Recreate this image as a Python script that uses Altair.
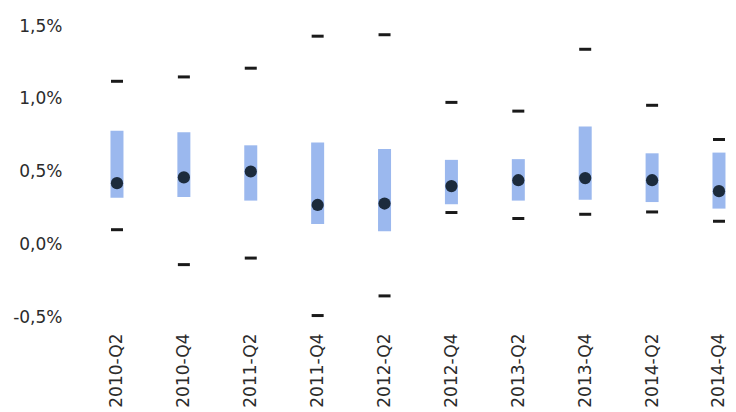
import altair as alt
import pandas as pd

quarters = ["2010-Q2", "2010-Q4", "2011-Q2", "2011-Q4", "2012-Q2",
            "2012-Q4", "2013-Q2", "2013-Q4", "2014-Q2", "2014-Q4"]
max_vals = [1.12, 1.15, 1.21, 1.43, 1.44, 0.975, 0.915, 1.34, 0.955, 0.72]
q_high = [0.78, 0.77, 0.68, 0.70, 0.655, 0.58, 0.585, 0.81, 0.625, 0.63]
median = [0.42, 0.46, 0.50, 0.27, 0.28, 0.40, 0.44, 0.455, 0.44, 0.365]
q_low = [0.32, 0.325, 0.30, 0.14, 0.09, 0.275, 0.30, 0.305, 0.29, 0.245]
min_vals = [0.10, -0.14, -0.095, -0.49, -0.355, 0.218, 0.177, 0.206, 0.222, 0.158]

df = pd.DataFrame({
    "q": quarters, "max": max_vals, "hi": q_high,
    "med": median, "lo": q_low, "min": min_vals,
})

FONT = "DejaVu Sans"
TXT = "#2b2b2b"

xenc = alt.X(
    "q:N", sort=quarters, title=None,
    scale=alt.Scale(type="point", padding=0.4186, align=0.839),
    axis=alt.Axis(labelAngle=270, labelPadding=16, ticks=False, domain=False,
                  labelFontSize=17, labelFont=FONT, labelColor=TXT, grid=False),
)
yscale = alt.Scale(domain=[-0.5, 1.5], nice=False, zero=False)
yaxis = alt.Axis(values=[-0.5, 0, 0.5, 1.0, 1.5], ticks=False, domain=False, grid=False,
                 labelFontSize=17, labelFont=FONT, labelColor=TXT, labelPadding=8,
                 labelExpr="replace(replace(format(datum.value, '.1f'), '.', ','), '\u2212', '-') + '%'")

base = alt.Chart(df)

bars = base.mark_bar(size=13, color="#9bb8ee").encode(
    x=xenc,
    y=alt.Y("lo:Q", scale=yscale, axis=yaxis, title=None),
    y2="hi:Q",
)
dots = base.mark_circle(size=150, opacity=1, color="#1c2b3c").encode(
    x=xenc, y=alt.Y("med:Q", scale=yscale, axis=yaxis, title=None),
)
tmax = base.mark_tick(size=12, thickness=3, opacity=1, color="#1a1a1a").encode(
    x=xenc, y=alt.Y("max:Q", scale=yscale, axis=yaxis, title=None),
)
tmin = base.mark_tick(size=12, thickness=3, opacity=1, color="#1a1a1a").encode(
    x=xenc, y=alt.Y("min:Q", scale=yscale, axis=yaxis, title=None),
)

chart = alt.layer(bars, dots, tmax, tmin).properties(
    width=658, height=291,
    background="white",
    autosize=alt.AutoSizeParams(type="none"),
    padding={"left": 62, "top": 18, "right": 0, "bottom": 95},
).configure_view(stroke="transparent", strokeWidth=0).configure_axis(grid=False)

chart.save("out.html", embed_options={"renderer": "svg", "actions": False})
